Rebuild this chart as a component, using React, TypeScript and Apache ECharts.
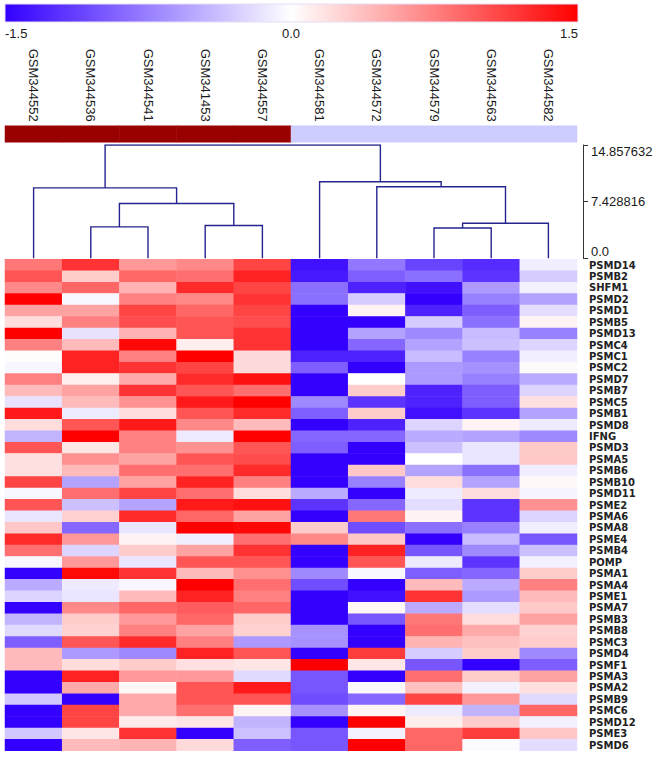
import React, { useEffect, useRef } from 'react';
import * as echarts from 'echarts';

const samples = ['GSM344552', 'GSM344536', 'GSM344541', 'GSM341453', 'GSM344557', 'GSM344581', 'GSM344572', 'GSM344579', 'GSM344563', 'GSM344582'];
const sampleGroup = [1, 1, 1, 1, 1, 0, 0, 0, 0, 0];

const genes = ['PSMD14', 'PSMB2', 'SHFM1', 'PSMD2', 'PSMD1', 'PSMB5', 'PSMD13', 'PSMC4', 'PSMC1', 'PSMC2', 'PSMD7', 'PSMB7', 'PSMC5', 'PSMB1', 'PSMD8', 'IFNG', 'PSMD3', 'PSMA5', 'PSMB6', 'PSMB10', 'PSMD11', 'PSME2', 'PSMA6', 'PSMA8', 'PSME4', 'PSMB4', 'POMP', 'PSMA1', 'PSMA4', 'PSME1', 'PSMA7', 'PSMB3', 'PSMB8', 'PSMC3', 'PSMD4', 'PSMF1', 'PSMA3', 'PSMA2', 'PSMB9', 'PSMC6', 'PSMD12', 'PSME3', 'PSMD6'];

// z-scores per sample, in gene order
const GSM344552 = [0.8, 1.0, 0.7, 1.5, 0.55, 0.2, 1.5, 0.75, 0.02, -0.05, 0.75, 0.4, -0.17, 1.35, 0.2, -0.45, 1.0, 0.18, 0.18, 1.1, -0.05, 1.0, -0.15, 0.33, 1.25, 0.85, -0.05, -1.5, -0.5, -0.25, -1.5, -0.45, -0.22, -0.95, 0.4, 0.4, -1.5, -1.5, -0.33, -1.5, -1.5, -0.33, -1.5];
const GSM344536 = [1.2, 0.3, 0.9, -0.05, 0.55, 0.75, -0.17, 0.4, 1.3, 1.3, 0.1, 0.55, 0.4, -0.12, 1.0, 1.5, 0.15, 0.65, 0.4, -0.55, 0.85, -0.37, 0.27, -0.9, 0.6, -0.25, 0.6, 1.45, -0.12, -0.15, 0.7, 0.3, 0.27, 1.0, -0.6, 0.2, 1.3, 0.5, -1.5, 1.1, 1.1, 0.15, 0.4];
const GSM344541 = [0.6, 0.9, 0.45, 0.75, 1.1, 1.05, 0.45, 1.45, 0.75, 1.2, 0.5, 1.2, 0.65, 0.2, 1.35, 0.75, 0.75, 0.55, 0.85, 0.55, 1.1, -0.55, 1.25, -0.15, 0.07, 0.3, -0.15, 1.2, -0.05, 0.4, 0.9, 0.6, 0.75, 1.25, -0.7, 0.3, 0.6, 0.04, 0.5, 0.5, 0.12, 1.2, 0.45];
const GSM341453 = [0.7, 0.85, 1.25, 0.7, 0.9, 1.0, 1.0, 0.1, 1.5, 1.1, 1.25, 1.0, 1.35, 1.0, 0.7, -0.12, 0.65, 1.0, 0.85, 1.3, 0.85, 1.35, 0.9, 1.5, -0.1, 0.55, 1.0, 0.4, 1.5, 1.3, 0.95, 0.9, 0.55, 0.75, 1.3, 0.18, 0.6, 1.0, 1.0, 0.85, 0.15, -1.5, 0.22];
const GSM344557 = [1.1, 1.3, 1.1, 1.2, 1.1, 1.05, 1.2, 1.2, 0.22, 0.22, 1.4, 0.85, 1.5, 1.25, 0.4, 1.5, 1.0, 1.05, 1.25, 0.75, 0.2, 1.4, 0.55, 1.45, 0.85, 1.2, 1.0, 0.65, 0.85, 0.75, 0.9, 0.3, 0.27, -0.6, 1.0, 0.15, -0.22, 1.35, 1.0, 0.07, -0.45, -0.37, -0.95];
const GSM344581 = [-1.4, -1.35, -0.85, -0.85, -1.5, -1.5, -1.5, -1.5, -1.3, -0.95, -1.5, -1.5, -0.7, -0.95, -1.5, -0.9, -0.95, -1.5, -1.5, -1.5, -0.5, -1.2, -1.5, 0.3, 0.7, -1.5, -1.5, -0.7, -1.05, -1.5, -1.5, -1.5, -0.65, -0.65, -1.5, 1.5, -1.0, -1.0, -1.05, -0.65, -1.5, -1.0, -1.0];
const GSM344572 = [-0.8, -0.95, -1.3, -0.3, 0.07, -1.5, -0.55, -0.9, -1.3, -1.5, 0.0, 0.3, -1.2, 0.3, -1.3, -0.9, -1.5, -1.5, 0.33, -0.75, -1.5, -0.9, 0.8, -1.05, 0.33, 1.3, 1.0, -0.05, -1.5, -1.4, 0.05, -1.0, -1.5, -1.5, 1.15, 0.15, -1.5, -0.04, -0.9, 0.07, 1.5, -0.08, 1.5];
const GSM344579 = [-1.1, -0.85, -1.4, -1.5, -1.3, -0.3, -0.7, -0.55, -0.4, -0.6, -0.6, -1.3, -1.3, -1.4, -0.25, -0.5, -0.37, 0.0, -0.55, 0.2, -0.12, -0.2, 0.07, -0.85, -1.5, -1.0, -0.12, -0.95, 0.4, 1.2, -0.5, 0.8, 0.85, 0.45, -0.3, -1.0, 0.85, 0.37, 1.1, -0.12, 0.1, 0.9, 0.9];
const GSM344563 = [-1.25, -1.2, -0.6, -0.75, -0.95, -0.85, -0.4, -0.37, -0.75, -0.65, -0.75, -0.95, -0.95, -1.2, 0.07, -0.55, -0.15, -0.15, -0.85, -0.55, 0.2, -1.2, -1.2, -0.75, -0.4, -0.7, -1.2, -0.9, -0.5, -0.6, -0.2, 0.2, 0.5, 0.37, 0.3, -1.5, 0.3, -0.08, 0.6, -0.45, 0.3, 1.15, -0.03];
const GSM344582 = [-0.1, -0.3, -0.08, -0.55, -0.2, 0.07, -0.75, -0.25, -0.1, 0.03, -0.5, -0.25, 0.18, -0.55, -0.12, -0.7, 0.32, 0.32, -0.1, 0.04, -0.06, 0.65, -0.25, -0.1, -1.0, -0.37, -0.08, 0.3, 0.75, 0.4, 0.32, 0.55, 0.27, 0.3, -0.7, -0.95, 0.55, 0.18, -0.22, 0.9, -0.08, 0.33, -0.2];
const sampleValues = [GSM344552, GSM344536, GSM344541, GSM341453, GSM344557, GSM344581, GSM344572, GSM344579, GSM344563, GSM344582];

// column dendrogram: leaves 0..9, merge k creates node 10+k
const mergeLeft = [1, 3, 10, 0, 7, 14, 6, 5, 13];
const mergeRight = [2, 4, 11, 12, 8, 9, 15, 16, 17];
const mergeHeight = [4.12, 4.3, 7.19, 9.24, 3.98, 4.6, 9.38, 10.03, 14.857632];
const dendroMax = 14.857632;
const dendroStep = 7.428816;

const colorbarLabels = ['-1.5', '0.0', '1.5'];

const App: React.FC = () => {
  const ref = useRef<HTMLDivElement>(null);

  useEffect(() => {
    if (!ref.current) return;
    const chart = echarts.init(ref.current, undefined, { renderer: 'svg' });

    const heatData: number[][] = [];
    sampleValues.forEach((col, xi) => {
      col.forEach((v, yi) => heatData.push([xi, yi, v]));
    });
    const groupData = sampleGroup.map((g, i) => [i, 0, g]);

    const nodeX: number[] = samples.map((_, i) => i + 0.5);
    const nodeH: number[] = samples.map(() => 0);
    const dendroLines: { coords: number[][] }[] = [];
    mergeLeft.forEach((a, k) => {
      const b = mergeRight[k];
      const h = mergeHeight[k];
      dendroLines.push({ coords: [[nodeX[a], nodeH[a]], [nodeX[a], h], [nodeX[b], h], [nodeX[b], nodeH[b]]] });
      nodeX.push((nodeX[a] + nodeX[b]) / 2);
      nodeH.push(h);
    });

    const left = 5;
    const width = 572;
    const sans = 'Liberation Sans, Arial, sans-serif';

    chart.setOption({
      animation: false,
      backgroundColor: '#ffffff',
      grid: [
        { left, top: 259.3, width, height: 491.5 },
        { left, top: 125.7, width, height: 16.6 },
        { left, top: 145, width, height: 113.3 },
      ],
      xAxis: [
        { type: 'category', data: samples, gridIndex: 0, show: false },
        {
          type: 'category', data: samples, gridIndex: 1, position: 'top',
          axisLine: { show: false }, axisTick: { show: false },
          axisLabel: { rotate: 90, margin: 4, fontSize: 13, fontFamily: sans, color: '#1a1a1a', interval: 0 },
        },
        { type: 'value', min: 0, max: samples.length, gridIndex: 2, show: false },
      ],
      yAxis: [
        {
          type: 'category', data: genes, gridIndex: 0, inverse: true, position: 'right',
          axisLine: { show: false }, axisTick: { show: false },
          axisLabel: {
            interval: 0, margin: 12, fontSize: 10, lineHeight: 10, fontWeight: 'bold',
            fontFamily: 'DejaVu Sans, sans-serif', color: '#222',
          },
        },
        { type: 'category', data: ['group'], gridIndex: 1, show: false },
        {
          type: 'value', min: 0, max: dendroMax, interval: dendroStep, gridIndex: 2, position: 'right', offset: 6,
          axisLine: { show: true, onZero: false, lineStyle: { color: '#333', width: 1 } },
          axisTick: { show: true, length: 5, lineStyle: { color: '#333' } },
          splitLine: { show: false },
          axisLabel: {
            margin: 8, fontSize: 13, lineHeight: 13, fontFamily: sans, color: '#1a1a1a',
            verticalAlignMinLabel: 'bottom', verticalAlignMaxLabel: 'top',
            formatter: (v: number) => (v === 0 ? '0.0' : v.toFixed(6)),
          },
        },
      ],
      visualMap: [
        {
          type: 'continuous', min: -1.5, max: 1.5, seriesIndex: 0, dimension: 2, show: false,
          inRange: { color: ['#3300ff', '#ffffff', '#ff0000'] },
        },
        {
          type: 'piecewise', seriesIndex: 1, dimension: 2, show: false,
          pieces: [{ value: 1, color: '#990000' }, { value: 0, color: '#ccccff' }],
        },
      ],
      series: [
        { type: 'heatmap', xAxisIndex: 0, yAxisIndex: 0, data: heatData, emphasis: { disabled: true } },
        { type: 'heatmap', xAxisIndex: 1, yAxisIndex: 1, data: groupData, emphasis: { disabled: true } },
        {
          type: 'lines', coordinateSystem: 'cartesian2d', xAxisIndex: 2, yAxisIndex: 2, polyline: true,
          data: dendroLines, lineStyle: { color: '#24248f', width: 1.4, opacity: 1 }, silent: true,
        },
      ],
      graphic: [
        {
          type: 'rect', shape: { x: 5, y: 4, width: 573, height: 18 },
          style: {
            fill: new echarts.graphic.LinearGradient(0, 0, 1, 0, [
              { offset: 0, color: '#3300ff' },
              { offset: 0.5, color: '#ffffff' },
              { offset: 1, color: '#ff0000' },
            ]),
            stroke: '#e6dcf5', lineWidth: 1,
          },
        },
        { type: 'text', x: 5, y: 33, style: { text: colorbarLabels[0], fontSize: 13, fontFamily: sans, fill: '#1a1a1a', align: 'left', verticalAlign: 'middle' } },
        { type: 'text', x: 291, y: 33, style: { text: colorbarLabels[1], fontSize: 13, fontFamily: sans, fill: '#1a1a1a', align: 'center', verticalAlign: 'middle' } },
        { type: 'text', x: 578, y: 33, style: { text: colorbarLabels[2], fontSize: 13, fontFamily: sans, fill: '#1a1a1a', align: 'right', verticalAlign: 'middle' } },
      ],
    });

    return () => chart.dispose();
  }, []);

  return <div ref={ref} style={{ position: 'absolute', left: 0, top: 0, width: 666, height: 757 }} />;
};

export default App;
